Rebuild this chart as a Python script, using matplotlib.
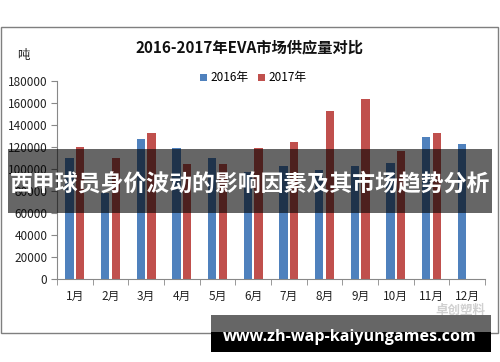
import matplotlib
matplotlib.use("Agg")
import matplotlib.pyplot as plt
from matplotlib.patches import Rectangle
import numpy as np

plt.rcParams['font.family'] = ['Noto Sans CJK SC', 'DejaVu Sans']

# data
months = ['1月', '2月', '3月', '4月', '5月', '6月', '7月', '8月', '9月', '10月', '11月', '12月']
supply_2016 = [110000, 78000, 127000, 119000, 110000, 97500, 102500, 99000, 102500, 105500, 129000, 123000]
supply_2017 = [120000, 110000, 133000, 105000, 105000, 119000, 125000, 152500, 164000, 116000, 132500, np.nan]
yticks = [0, 20000, 40000, 60000, 80000, 100000, 120000, 140000, 160000, 180000]

W, H = 500, 362
fig = plt.figure(figsize=(5.0, 3.62), dpi=100)

# outer chart frame
fig.patches.append(Rectangle((1 / W, 1 - 333 / H), 497 / W, 306 / H, transform=fig.transFigure,
                             fill=False, edgecolor='#7f7f7f', linewidth=1.0))

ax = fig.add_axes([57 / W, 1 - 279 / H, 428 / W, 198 / H])
x = np.arange(len(months))
ax.bar(x - 0.15, supply_2016, width=0.23, color='#4F81BD', label='2016年')
ax.bar(x + 0.15, supply_2017, width=0.23, color='#C0504D', label='2017年')

ax.set_xlim(-0.5, len(months) - 0.5)
ax.set_ylim(0, 180000)
ax.set_yticks(yticks)
ax.set_yticklabels([str(v) for v in yticks], fontsize=8.5, color='#222222')
ax.set_xticks(x)
ax.set_xticklabels(months, fontsize=8.5, color='#222222')
ax.set_xticks(np.arange(-0.5, len(months)), minor=True)
ax.tick_params(axis='x', which='major', length=0, pad=8)
ax.tick_params(axis='x', which='minor', length=4, color='#888888', direction='out')
ax.tick_params(axis='y', length=4, color='#888888', direction='out', pad=3)
for s in ['top', 'right']:
    ax.spines[s].set_visible(False)
ax.spines['left'].set_color('#888888')
ax.spines['bottom'].set_color('#888888')

fig.text(250 / W, 1 - 47 / H, '2016-2017年EVA市场供应量对比', ha='center', va='center',
         fontsize=11, fontweight='bold', color='#111111')
fig.text(23 / W, 1 - 55 / H, '吨', ha='center', va='center', fontsize=9, color='#222222')
fig.legend(loc='center', bbox_to_anchor=(253 / W, 1 - 78 / H), ncol=2, frameon=False,
           fontsize=8.5, handlelength=0.6, handleheight=0.6, handletextpad=0.3, columnspacing=0.8)

# faint source watermark
fig.text(460 / W, 1 - 310 / H, '卓创塑料', ha='center', va='center', fontsize=9,
         color='#d0d0d0', fontweight='bold')

# dark banner across the middle
fig.patches.append(Rectangle((8 / W, 1 - 213 / H), 484 / W, 64 / H, transform=fig.transFigure,
                             facecolor='black', alpha=0.6, edgecolor='none', zorder=5))
fig.text(250 / W, 1 - 184 / H, '西甲球员身价波动的影响因素及其市场趋势分析', ha='center', va='center',
         fontsize=16.5, fontweight='bold', color='white', zorder=6)

# url strip at the bottom
fig.patches.append(Rectangle((211 / W, 1 - 332 / H), 280 / W, 17 / H, transform=fig.transFigure,
                             facecolor='black', alpha=0.6, edgecolor='none', zorder=5))
fig.patches.append(Rectangle((211 / W, 1 - 352 / H), 280 / W, 20 / H, transform=fig.transFigure,
                             facecolor='black', edgecolor='none', zorder=5))
fig.text(350 / W, 1 - 337 / H, 'www.zh-wap-kaiyungames.com', ha='center', va='center',
         fontsize=11.6, fontweight='bold', color='white', family=['Open Sans', 'DejaVu Sans'], zorder=6)

fig.savefig('out.png', dpi=100)
